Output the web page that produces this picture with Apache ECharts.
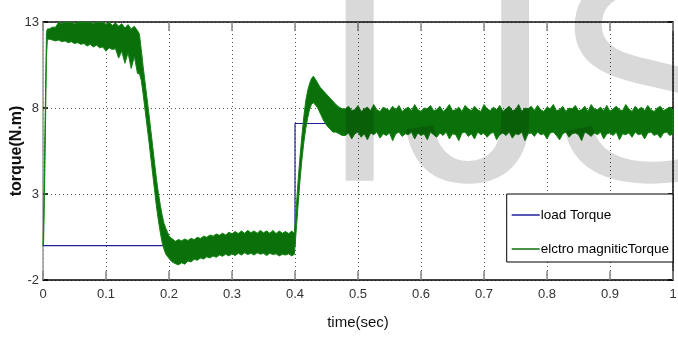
<!DOCTYPE html>
<html>
<head>
<meta charset="utf-8">
<script src="https://cdn.jsdelivr.net/npm/echarts@6/dist/echarts.min.js"></script>
<style>
html,body{margin:0;padding:0;background:#fff;}
#chart{width:678px;height:339px;}
</style>
</head>
<body>
<div id="chart"></div>
<script>
// ---- tick labels ----
const xTicks = ['0','0.1','0.2','0.3','0.4','0.5','0.6','0.7','0.8','0.9','1'];
const yTicks = ['-2','3','8','13'];

// ---- load torque (step) ----
const loadTime  = [0, 0.4, 0.4, 1];
const loadValue = [0, 0, 7.1, 7.1];

const emTime = [
  0, 0.001, 0.003, 0.0055, 0.007,
  0.010,0.015,0.020,0.025,0.030,0.035,0.040,0.045,0.050,0.055,0.060,0.065,0.070,0.075,0.080,0.085,0.090,0.095,0.100,0.105,0.110,0.115,0.120,0.125,0.130,0.135,0.140,0.145,0.150,
  0.153,0.156,0.159,0.162,0.165,0.168,0.171,0.174,0.177,0.180,0.183,0.186,0.189,0.192,0.195,0.198,
  0.200,0.205,0.210,0.215,0.220,0.225,0.230,0.235,0.240,0.245,
  0.250,0.255,0.260,0.265,0.270,0.275,0.280,0.285,0.290,0.295,
  0.300,0.305,0.310,0.315,0.320,0.325,0.330,0.335,0.340,0.345,
  0.350,0.355,0.360,0.365,0.370,0.375,0.380,0.385,0.390,0.395,
  0.399,0.402,0.405,0.408,0.411,0.414,0.417,0.420,0.423,0.426,0.429,0.432,0.436,0.440,0.445,0.450,0.455,0.460,0.465,0.470,0.475,
  0.480,0.485,0.490,0.495,0.500,0.505,0.510,0.515,0.520,0.525,
  0.530,0.535,0.540,0.545,0.550,0.555,0.560,0.565,0.570,0.575,
  0.580,0.585,0.590,0.595,0.600,0.605,0.610,0.615,0.620,0.625,
  0.630,0.635,0.640,0.645,0.650,0.655,0.660,0.665,0.670,0.675,
  0.680,0.685,0.690,0.695,0.700,0.705,0.710,0.715,0.720,0.725,
  0.730,0.735,0.740,0.745,0.750,0.755,0.760,0.765,0.770,0.775,
  0.780,0.785,0.790,0.795,0.800,0.805,0.810,0.815,0.820,0.825,
  0.830,0.835,0.840,0.845,0.850,0.855,0.860,0.865,0.870,0.875,
  0.880,0.885,0.890,0.895,0.900,0.905,0.910,0.915,0.920,0.925,
  0.930,0.935,0.940,0.945,0.950,0.955,0.960,0.965,0.970,0.975,
  0.980,0.985,0.990,0.995,1.000
];
const emLow = [
  0, 0.2, 4.5, 11.0, 12.0,
  12.0,11.95,11.9,11.95,11.85,11.9,11.8,11.85,11.75,11.8,11.7,11.75,11.6,11.7,11.55,11.65,11.5,11.55,11.3,11.5,11.4,11.45,10.9,11.3,10.6,11.2,10.3,11.0,10.0,
  10.0,9.6,8.8,7.9,7.0,6.1,5.15,4.2,3.25,2.3,1.5,0.8,0.2,-0.2,-0.5,-0.65,
  -0.75,-0.95,-1.05,-1.12,-1.0,-1.08,-0.9,-0.95,-0.8,-0.85,
  -0.72,-0.78,-0.65,-0.72,-0.6,-0.68,-0.55,-0.62,-0.5,-0.6,
  -0.48,-0.58,-0.45,-0.55,-0.42,-0.52,-0.45,-0.55,-0.42,-0.5,
  -0.45,-0.58,-0.45,-0.52,-0.48,-0.6,-0.5,-0.55,-0.48,-0.6,
  -0.5,0.9,2.4,3.8,5.0,6.0,6.8,7.4,7.9,8.2,8.3,8.2,8.0,7.7,7.3,7.0,6.8,6.6,6.6,6.5,6.4,
  6.4,6.55,6.2,6.5,6.6,6.3,6.5,6.15,6.55,6.45,
  6.6,6.25,6.5,6.4,6.55,6.1,6.5,6.6,6.35,6.5,
  6.45,6.6,6.2,6.55,6.4,6.5,6.15,6.6,6.45,6.3,
  6.55,6.4,6.6,6.2,6.5,6.45,6.1,6.55,6.6,6.35,
  6.5,6.2,6.6,6.45,6.55,6.3,6.5,6.6,6.15,6.45,
  6.55,6.4,6.6,6.25,6.5,6.45,6.6,6.1,6.5,6.55,
  6.35,6.6,6.45,6.5,6.2,6.55,6.6,6.4,6.15,6.5,
  6.6,6.3,6.5,6.55,6.45,6.1,6.6,6.5,6.35,6.55,
  6.45,6.6,6.2,6.5,6.55,6.4,6.6,6.15,6.5,6.45,
  6.55,6.3,6.6,6.45,6.5,6.2,6.55,6.6,6.4,6.5,
  6.25,6.55,6.6,6.4,6.5
];
const emHigh = [
  0, 1.5, 6.5, 12.4, 12.6,
  12.6,12.7,12.7,13.1,12.9,13.2,12.95,13.2,12.9,13.2,13.0,13.2,12.95,13.2,12.9,13.1,12.95,13.1,12.85,13.0,12.8,12.95,12.75,12.9,12.65,12.85,12.6,12.75,12.5,
  12.3,11.4,10.4,9.5,8.6,7.7,6.75,5.8,4.85,3.9,3.1,2.4,1.8,1.3,1.0,0.75,
  0.55,0.4,0.25,0.35,0.28,0.38,0.3,0.42,0.35,0.48,
  0.42,0.55,0.48,0.62,0.55,0.68,0.6,0.72,0.62,0.78,
  0.68,0.82,0.7,0.85,0.72,0.88,0.75,0.85,0.72,0.88,
  0.75,0.85,0.72,0.88,0.7,0.85,0.72,0.82,0.7,0.85,
  0.7,2.2,3.8,5.2,6.4,7.5,8.4,9.0,9.4,9.7,9.85,9.7,9.45,9.2,9.0,8.8,8.6,8.4,8.2,8.05,7.95,
  7.95,8.1,7.85,7.9,8.15,7.8,7.95,8.05,7.85,8.2,
  7.9,7.8,8.05,7.95,7.85,8.1,7.9,8.15,7.8,7.95,
  8.05,7.85,8.2,7.9,7.8,8.0,7.95,8.15,7.85,7.9,
  8.1,7.8,7.95,8.2,7.85,7.9,8.05,7.8,8.15,7.95,
  7.85,8.1,7.9,7.8,8.2,7.95,7.85,8.05,7.9,8.15,
  7.8,7.95,8.1,7.85,7.9,8.2,7.8,8.0,7.95,8.1,
  7.85,8.15,7.9,7.8,8.05,7.95,8.2,7.85,7.9,8.1,
  7.8,8.0,7.95,8.15,7.85,7.9,8.1,7.8,8.2,7.95,
  7.9,8.05,7.85,8.15,7.8,7.95,8.1,7.9,7.85,8.2,
  7.95,7.8,8.1,7.9,8.05,7.85,8.15,7.9,7.8,8.0,
  8.1,7.85,7.95,8.05,7.9
];

const seriesNames = ['load Torque', 'elctro magniticTorque'];
const blue = '#1f1f9c';
const green = '#0a700a';
const greenEdge = '#138513';
const sans = '"Liberation Sans",Arial,sans-serif';

const loadData = loadTime.map((t, i) => [t, loadValue[i]]);
const emData = emTime.map((t, i) => [t, emLow[i], emHigh[i]]);

// whole ripple band drawn as one polygon (upper edge forward, lower edge back)
function renderBand(params, api) {
  if (params.dataIndexInside !== 0) return null;
  const n = params.dataInsideLength;
  const upper = [], lower = [];
  for (let j = 0; j < n; j++) {
    upper.push(api.coord([api.value(0, j), api.value(2, j)]));
    lower.push(api.coord([api.value(0, j), api.value(1, j)]));
  }
  const cs = params.coordSys;
  const pts = echarts.graphic.clipPointsByRect(upper.concat(lower.reverse()),
    {x: cs.x, y: cs.y, width: cs.width, height: cs.height});
  return {
    type: 'polygon',
    shape: {points: pts},
    style: {fill: green, stroke: greenEdge, lineWidth: 1, lineJoin: 'round'}
  };
}

const chart = echarts.init(document.getElementById('chart'), null, {renderer: 'canvas'});

const xBase = {type: 'value', min: 0, max: 1, interval: 0.1};
const yBase = {type: 'value', min: -2, max: 13, interval: 5};

chart.setOption({
  animation: false,
  backgroundColor: '#ffffff',
  grid: {left: 43, right: 5, top: 22, bottom: 59, containLabel: false, outerBoundsMode: 'none'},
  xAxis: [
    Object.assign({}, xBase, {
      position: 'bottom',
      name: 'time(sec)', nameLocation: 'middle', nameGap: 35,
      nameTextStyle: {fontFamily: sans, fontSize: 15, color: '#111'},
      axisLine: {onZero: false, lineStyle: {color: '#000', width: 1.5}},
      axisTick: {inside: true, length: 9, lineStyle: {color: '#888', width: 1.5}},
      axisLabel: {
        margin: 8, fontFamily: sans, fontSize: 13, color: '#333',
        showMinLabel: true, showMaxLabel: true,
        formatter: (v) => xTicks[Math.round(v * 10)]
      },
      splitLine: {show: true, lineStyle: {color: '#555', width: 1, type: [1, 3]}}
    }),
    Object.assign({}, xBase, {
      position: 'top',
      axisLine: {onZero: false, lineStyle: {color: '#111', width: 1.5}},
      axisTick: {inside: true, length: 9, lineStyle: {color: '#888', width: 1.5}},
      axisLabel: {show: false},
      splitLine: {show: false}
    })
  ],
  yAxis: [
    Object.assign({}, yBase, {
      position: 'left',
      name: 'torque(N.m)', nameLocation: 'middle', nameGap: 18, nameRotate: 90,
      nameMoveOverlap: false,
      nameTextStyle: {fontFamily: sans, fontWeight: 'bold', fontSize: 16, color: '#111'},
      axisLine: {onZero: false, lineStyle: {color: '#999', width: 1.5}},
      axisTick: {inside: true, length: 5, lineStyle: {color: '#000', width: 1.5}},
      axisLabel: {
        margin: 4, fontFamily: sans, fontSize: 13, color: '#333',
        formatter: (v) => yTicks[Math.round((v + 2) / 5)]
      },
      splitLine: {show: true, lineStyle: {color: '#555', width: 1, type: [1, 3]}}
    }),
    Object.assign({}, yBase, {
      position: 'right',
      axisLine: {onZero: false, lineStyle: {color: '#111', width: 1.5}},
      axisTick: {inside: true, length: 5, lineStyle: {color: '#000', width: 1.5}},
      axisLabel: {show: false},
      splitLine: {show: false}
    })
  ],
  legend: {
    data: seriesNames,
    orient: 'vertical',
    right: 5, top: 194,
    icon: 'rect', itemWidth: 28, itemHeight: 1.5,
    itemGap: 20,
    padding: [14, 4, 6, 5],
    backgroundColor: '#fff',
    borderColor: '#000', borderWidth: 1, borderRadius: 0,
    textStyle: {fontFamily: sans, fontSize: 13.5, color: '#000', padding: [0, 0, 0, -4]},
    z: 20
  },
  graphic: [{
    type: 'text', x: 318, y: 98, z: 100, silent: true,
    style: {text: 'IJSER', font: '300px "Liberation Sans", Arial, sans-serif',
            fill: 'rgba(0,0,0,0.15)', align: 'left', verticalAlign: 'middle'}
  }],
  series: [
    {
      name: seriesNames[0], type: 'line', data: loadData,
      xAxisIndex: 0, yAxisIndex: 0,
      symbol: 'none', z: 2,
      itemStyle: {color: blue},
      lineStyle: {color: blue, width: 1.2}
    },
    {
      name: seriesNames[1], type: 'custom', data: emData,
      xAxisIndex: 0, yAxisIndex: 0,
      encode: {x: 0, y: [1, 2]},
      renderItem: renderBand,
      z: 3,
      itemStyle: {color: green}
    }
  ]
});
</script>
</body>
</html>
